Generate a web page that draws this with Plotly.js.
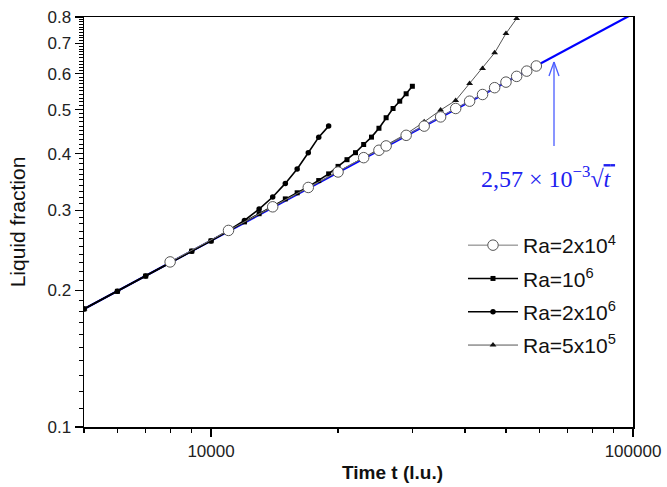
<!DOCTYPE html>
<html>
<head>
<meta charset="utf-8">
<script src="https://cdn.plot.ly/plotly-3.0.1.min.js"></script>
<style>html,body{margin:0;padding:0;background:#fff}#chart{width:667px;height:487px}</style>
</head>
<body>
<div id="chart"></div>
<script>
// ---- data (t in lattice units, liquid fraction) ----
const t_ra2e4 = [8000, 11000, 14000, 17000, 20000, 23000, 25000, 26000, 29000, 32000, 35000, 38000, 41000, 44000, 47000, 50000, 53000, 56000, 59000];
const f_ra2e4 = [0.231, 0.271, 0.3055, 0.337, 0.3645, 0.392, 0.407, 0.416, 0.439, 0.460, 0.482, 0.503, 0.522, 0.540, 0.559, 0.575, 0.592, 0.608, 0.624];

const t_ra1e6 = [5000, 6000, 7000, 8000, 9000, 10000, 11000, 12000, 13000, 14000, 15000, 16000, 17000, 18000, 19000, 20000, 21000, 22000, 23000, 24000, 25000, 26000, 27000, 28000, 29000, 30000];
const f_ra1e6 = [0.182, 0.199, 0.215, 0.230, 0.244, 0.257, 0.270, 0.283, 0.295, 0.307, 0.318, 0.328, 0.338, 0.349, 0.361, 0.375, 0.388, 0.402, 0.419, 0.435, 0.455, 0.480, 0.503, 0.522, 0.542, 0.563];

const t_ra2e6 = [5000, 6000, 7000, 8000, 9000, 10000, 11000, 12000, 13000, 14000, 15000, 16000, 17000, 18000, 19000];
const f_ra2e6 = [0.182, 0.199, 0.215, 0.230, 0.244, 0.257, 0.271, 0.285, 0.302, 0.321, 0.344, 0.370, 0.402, 0.435, 0.460];

const t_ra5e5 = [5000, 8000, 11000, 14000, 17000, 20000, 23000, 26000, 29000, 32000, 35000, 38000, 41000, 44000, 47000, 50000, 53000];
const f_ra5e5 = [0.182, 0.230, 0.270, 0.305, 0.336, 0.365, 0.392, 0.418, 0.442, 0.470, 0.499, 0.524, 0.571, 0.616, 0.667, 0.736, 0.794];

// fitted law 2.57e-3*sqrt(t): end points
const t_fit = [5000, 100000];
const f_fit = [0.182, 0.813];

const yTickVals = [0.1, 0.2, 0.3, 0.4, 0.5, 0.6, 0.7, 0.8];
const yTickText = ['0.1', '0.2', '0.3', '0.4', '0.5', '0.6', '0.7', '0.8'];
const xTickVals = [10000, 100000];
const xTickText = ['10000', '100000'];

// minor tick positions (axis decoration)
const yMinor = [];
for (let k = 11; k < 80; k++) { if (k % 10 !== 0) yMinor.push(k / 100); }
const xMinor = [5000, 6000, 7000, 8000, 9000, 20000, 30000, 40000, 50000, 60000, 70000, 80000, 90000];

const FONT = 'Liberation Sans, Arial, sans-serif';

const traces = [
  {x: t_fit, y: f_fit, mode: 'lines', line: {color: '#0000ff', width: 2.2}, showlegend: false, hoverinfo: 'skip'},
  {x: t_ra5e5, y: f_ra5e5, name: 'Ra=5x10<sup>5</sup>', legendrank: 4, legendgroup: 'g4', mode: 'lines+markers',
   line: {color: '#555555', width: 1}, marker: {symbol: 'triangle-up', size: 6, color: '#111111'}},
  {x: t_ra2e6, y: f_ra2e6, name: 'Ra=2x10<sup>6</sup>', legendrank: 3, legendgroup: 'g3', mode: 'lines+markers',
   line: {color: '#000000', width: 1.6}, marker: {symbol: 'circle', size: 5.5, color: '#000000'}},
  {x: t_ra1e6, y: f_ra1e6, name: 'Ra=10<sup>6</sup>', legendrank: 2, legendgroup: 'g2', mode: 'lines+markers',
   line: {color: '#000000', width: 1.6}, marker: {symbol: 'square', size: 5, color: '#000000'}},
  {x: t_ra2e4, y: f_ra2e4, name: 'Ra=2x10<sup>4</sup>', legendrank: 1, legendgroup: 'g1', mode: 'lines+markers',
   line: {color: '#777777', width: 1}, marker: {symbol: 'circle', size: 10.5, color: '#ffffff', line: {color: '#555555', width: 1}}}
];

const L = 84, R = 633, T = 17, B = 427;
const px = v => (v - L) / (R - L);
const py = v => (B - v) / (B - T);

const layout = {
  width: 667, height: 487,
  margin: {l: L, r: 667 - R, t: T, b: 487 - B},
  paper_bgcolor: '#ffffff', plot_bgcolor: '#ffffff',
  font: {family: FONT, color: '#111111'},
  showlegend: true,
  legend: {x: px(463), y: py(225), xanchor: 'left', yanchor: 'top', bgcolor: 'rgba(0,0,0,0)',
           font: {family: FONT, size: 21, color: '#111111'}, itemwidth: 50,
           traceorder: 'grouped', tracegroupgap: 3},
  xaxis: {type: 'log', range: [Math.log10(5000), 5], showgrid: false, zeroline: false,
          showline: true, linecolor: '#000', linewidth: 1.5, mirror: true,
          ticks: 'outside', ticklen: 8, tickwidth: 1.3, tickcolor: '#000',
          tickmode: 'array', tickvals: xTickVals, ticktext: xTickText,
          tickfont: {family: FONT, size: 17, color: '#222'},
          minor: {tickmode: 'array', tickvals: xMinor, ticks: 'outside', ticklen: 4, tickwidth: 1.2, tickcolor: '#000', showgrid: false}},
  yaxis: {type: 'log', range: [-1, Math.log10(0.8)], showgrid: false, zeroline: false,
          showline: true, linecolor: '#000', linewidth: 1.5, mirror: true,
          ticks: 'outside', ticklen: 8, tickwidth: 1.3, tickcolor: '#000',
          tickmode: 'array', tickvals: yTickVals, ticktext: yTickText,
          tickfont: {family: FONT, size: 17, color: '#222'},
          title: {text: 'Liquid fraction', font: {family: FONT, size: 21, color: '#111'}, standoff: 16},
          minor: {tickmode: 'array', tickvals: yMinor, ticks: 'outside', ticklen: 4, tickwidth: 1, tickcolor: '#000', showgrid: false}},
  annotations: [
    {xref: 'paper', yref: 'paper', x: px(392), y: py(472), xanchor: 'center', yanchor: 'middle', showarrow: false,
     text: '<b>Time t (l.u.)</b>', font: {family: FONT, size: 19, color: '#111'}},
    {xref: 'paper', yref: 'paper', x: px(548), y: py(177), xanchor: 'center', yanchor: 'middle', showarrow: false,
     text: '2,57 × 10<sup>−3</sup>√<span style="text-decoration:overline"><i>t</i>\u2009</span>',
     font: {family: 'Liberation Serif, Times New Roman, serif', size: 24, color: '#2020f0'}}
  ],
  shapes: [
    {type: 'line', xref: 'paper', yref: 'paper', x0: px(554), x1: px(554), y0: py(146), y1: py(62), line: {color: '#4a5cff', width: 1.3}},
    {type: 'line', xref: 'paper', yref: 'paper', x0: px(549), x1: px(554), y0: py(76), y1: py(62), line: {color: '#4a5cff', width: 1.3}},
    {type: 'line', xref: 'paper', yref: 'paper', x0: px(559), x1: px(554), y0: py(76), y1: py(62), line: {color: '#4a5cff', width: 1.3}}
  ]
};

Plotly.newPlot('chart', traces, layout, {displayModeBar: false, staticPlot: true});
</script>
</body>
</html>
